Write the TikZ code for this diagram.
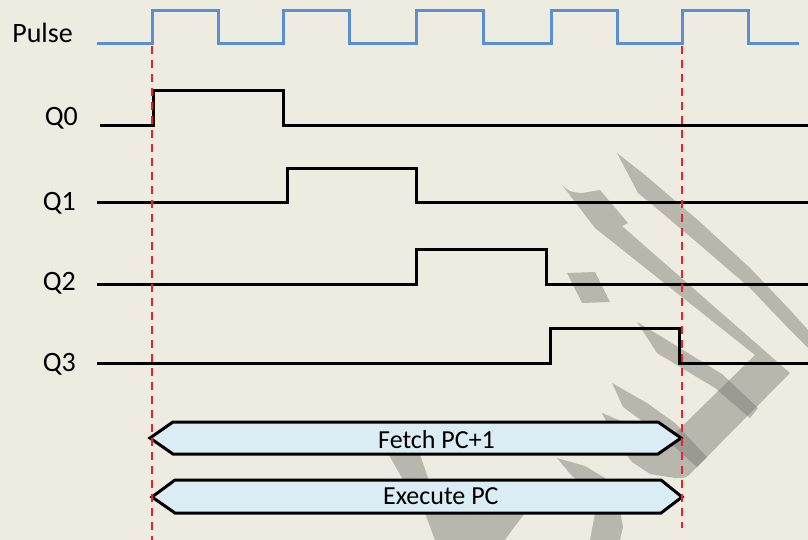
\documentclass[tikz,border=0pt]{standalone}
\usepackage{fontspec}
\setmainfont{Carlito}
\definecolor{bg}{RGB}{238,235,225}
\definecolor{pulseblue}{RGB}{88,143,213}
\definecolor{boxfill}{RGB}{219,237,244}
\definecolor{wm}{RGB}{120,120,112}
\definecolor{guide}{RGB}{240,30,40}
\begin{document}
\begin{tikzpicture}[x=1pt,y=-1pt,
  lbl/.style={inner sep=0pt, anchor=base east, font=\fontsize{28}{32}\selectfont},
  boxtxt/.style={inner sep=0pt, anchor=base west, font=\fontsize{26}{30}\selectfont},
  wave/.style={line width=3pt, line join=miter, black},
  clock/.style={line width=3pt, line join=miter, pulseblue},
  phase/.style={line width=3pt, line join=miter, draw=black, fill=boxfill},
  guideline/.style={line width=2pt, guide, dash pattern=on 8pt off 6pt},
  wmark/.style={fill=wm, opacity=0.45}]
\useasboundingbox (0,0) rectangle (808,540);
\fill[bg] (0,0) rectangle (808,540);
% ---- watermark ----
\fill[wmark] (617,153) -- (645,175) -- (700,222) -- (750,268) -- (790,310) -- (808,330)
  -- (808,348) -- (790,330) -- (750,288) -- (700,245) -- (655,207) -- (638,193) -- cycle;
\fill[wmark] (567,273) -- (595,272) -- (610,302) -- (582,303) -- cycle;
\fill[wmark] (562,185) .. controls (570,192) .. (582,193) -- (600,190) -- (628,223) -- (622,226)
  -- (790,373) -- (692,472) .. controls (686,478) .. (675,478) -- (650,474) -- (632,462)
  -- (615,440) -- (602,413) -- (628,424) -- (662,446) -- (755,355) -- (600,232) -- (595,228) -- cycle;
\fill[wmark] (637,322) -- (662,337) -- (722,374) -- (758,408) -- (750,418) -- (715,388) -- (657,353) -- cycle;
\fill[wmark] (612,383) -- (647,403) -- (675,423) -- (707,457) -- (697,467) -- (660,434) -- (623,407) -- cycle;
\fill[wmark] (372,425) -- (410,425) -- (428,478) -- (445,513) -- (525,513) -- (512,530) -- (505,540)
  -- (435,540) -- (425,513) -- (402,478) -- cycle;
\fill[wmark] (557,458) -- (585,466) -- (605,478) -- (618,500) -- (623,527) -- (620,540)
  -- (590,540) -- (595,513) -- (588,490) -- (572,476) -- cycle;
% ---- waveforms ----
\draw[clock] (97,44) -- (152,44) -- (152,11) -- (218,11) -- (218,44) -- (283,44) -- (283,11)
  -- (349,11) -- (349,44) -- (416,44) -- (416,11) -- (483,11) -- (483,44) -- (551,44)
  -- (551,11) -- (617,11) -- (617,44) -- (682,44) -- (682,11) -- (748,11) -- (748,44) -- (799,44);
\draw[wave] (100,126) -- (153,126) -- (153,91) -- (283,91) -- (283,126) -- (808,126);
\draw[wave] (97,203) -- (287,203) -- (287,169) -- (416,169) -- (416,203) -- (808,203);
\draw[wave] (97,284) -- (416,284) -- (416,249) -- (546,249) -- (546,284) -- (808,284);
\draw[wave] (97,363) -- (550,363) -- (550,328) -- (679,328) -- (679,363) -- (808,363);
% ---- phase boxes ----
\draw[phase] (150,438) -- (173,422) -- (658,422) -- (681,438) -- (658,454) -- (173,454) -- cycle;
\draw[phase] (152,497) -- (175,480) -- (661,480) -- (682,497) -- (661,513) -- (175,513) -- cycle;
\node[boxtxt] (fetch) at (378,448) {Fetch PC+1};
\node[boxtxt] (exec) at (383,504) {Execute PC};
% ---- labels ----
\node[lbl] (pulse) at (73,43) {Pulse};
\node[lbl] (q0) at (78,126) {Q0};
\node[lbl] (q1) at (76,211) {Q1};
\node[lbl] (q2) at (76,290) {Q2};
\node[lbl] (q3) at (76,371) {Q3};
% ---- guide lines ----
\coordinate (g1t) at (152,46);
\coordinate (g1b) at (152,540);
\coordinate (g2t) at (682,46);
\coordinate (g2b) at (682,528);
\draw[guideline] (g1t) -- (g1b);
\draw[guideline] (g2t) -- (g2b);
\end{tikzpicture}
\end{document}
